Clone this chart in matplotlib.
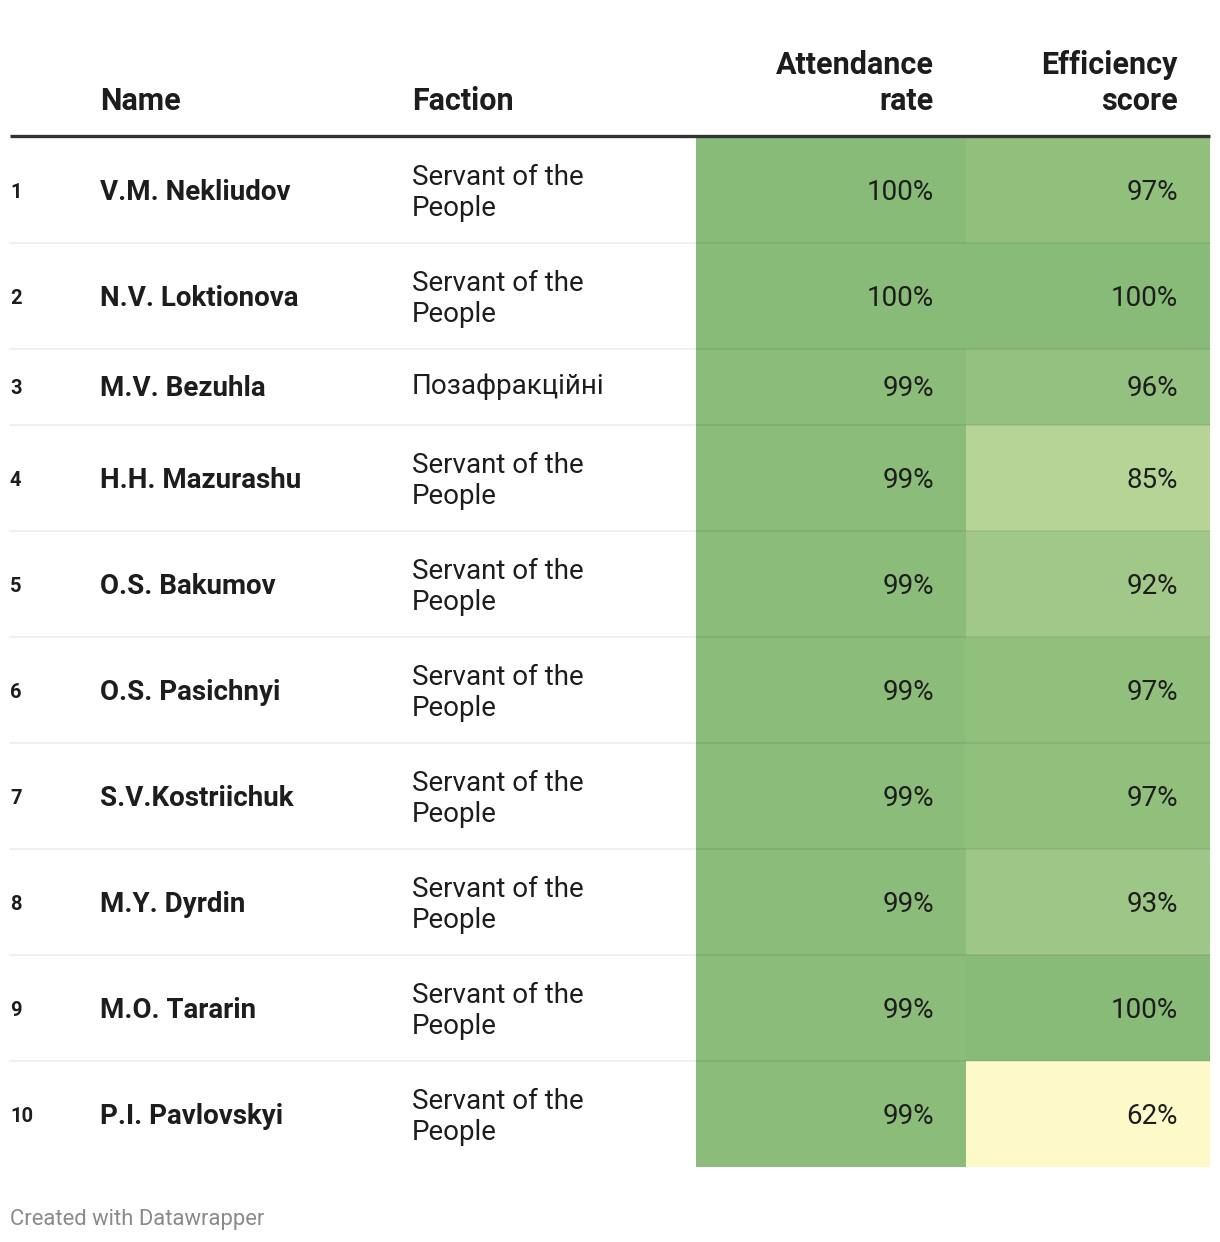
import matplotlib
matplotlib.use("Agg")
import matplotlib.pyplot as plt
from matplotlib.colors import LinearSegmentedColormap, Normalize
from matplotlib.patches import Rectangle

plt.rcParams['font.family'] = ['Roboto', 'DejaVu Sans']

# ---------------------------------------------------
ranks = [1, 2, 3, 4, 5, 6, 7, 8, 9, 10]
names = ['V.M. Nekliudov', 'N.V. Loktionova', 'M.V. Bezuhla', 'H.H. Mazurashu',
         'O.S. Bakumov', 'O.S. Pasichnyi', 'S.V.Kostriichuk', 'M.Y. Dyrdin',
         'M.O. Tararin', 'P.I. Pavlovskyi']
factions = ['Servant of the\nPeople', 'Servant of the\nPeople', 'Позафракційні',
            'Servant of the\nPeople', 'Servant of the\nPeople', 'Servant of the\nPeople',
            'Servant of the\nPeople', 'Servant of the\nPeople', 'Servant of the\nPeople',
            'Servant of the\nPeople']
attendance = [100, 100, 99, 99, 99, 99, 99, 99, 99, 99]
efficiency = [97, 100, 96, 85, 92, 97, 97, 93, 100, 62]
headers = ['Name', 'Faction', 'Attendance\nrate', 'Efficiency\nscore']
# ---------------------------------------------------

W, H = 1220, 1242
fig = plt.figure(figsize=(W / 100, H / 100), dpi=100)
ax = fig.add_axes([0, 0, 1, 1])
ax.set_xlim(0, W)
ax.set_ylim(H, 0)
ax.axis('off')

cmap = LinearSegmentedColormap.from_list('dw', ['#fef9c9', '#88bb77'])
norm = Normalize(vmin=min(attendance + efficiency), vmax=max(attendance + efficiency))

fs = 20
hfs = 22
txt = '#1d1d1d'
x_rank, x_name, x_fac = 10, 100, 412
col_edges = [696, 966, 1210]
x_att_r, x_eff_r = 934, 1178

# header
ax.text(x_name, 101, headers[0], fontsize=hfs, fontweight='bold', color=txt, va='center', ha='left')
ax.text(x_fac, 101, headers[1], fontsize=hfs, fontweight='bold', color=txt, va='center', ha='left')
ax.text(x_att_r, 83, headers[2], fontsize=hfs, fontweight='bold', color=txt, va='center', ha='right',
        multialignment='right', linespacing=1.24)
ax.text(x_eff_r, 83, headers[3], fontsize=hfs, fontweight='bold', color=txt, va='center', ha='right',
        multialignment='right', linespacing=1.24)
ax.plot([10, 1210], [135.5, 135.5], color='#333333', lw=2.4, solid_capstyle='butt')

y = 137
for i in range(len(names)):
    two_line = '\n' in factions[i]
    h = 106 if two_line else 76
    yc = y + h / 2 + 2
    ax.add_patch(Rectangle((col_edges[0], y), col_edges[1] - col_edges[0], h,
                           facecolor=cmap(norm(attendance[i])), edgecolor='none'))
    ax.add_patch(Rectangle((col_edges[1], y), col_edges[2] - col_edges[1], h,
                           facecolor=cmap(norm(efficiency[i])), edgecolor='none'))
    ax.text(x_rank, yc, str(ranks[i]), fontsize=14.5, fontweight='bold', color=txt, va='center', ha='left')
    ax.text(x_name, yc, names[i], fontsize=fs, fontweight='bold', color=txt, va='center', ha='left')
    ax.text(x_fac, yc + (1 if two_line else -2), factions[i], fontsize=fs, color=txt,
            va='center', ha='left', linespacing=1.22)
    ax.text(x_att_r, yc, f'{attendance[i]}%', fontsize=fs, color=txt, va='center', ha='right')
    ax.text(x_eff_r, yc, f'{efficiency[i]}%', fontsize=fs, color=txt, va='center', ha='right')
    y += h
    if i < len(names) - 1:
        ax.plot([10, 1210], [y, y], color='black', alpha=0.07, lw=1.2)

ax.text(10, 1220, 'Created with Datawrapper', fontsize=15.8, color='#8a8a8a', va='center', ha='left')

fig.savefig('out.png', dpi=100, facecolor='white')
